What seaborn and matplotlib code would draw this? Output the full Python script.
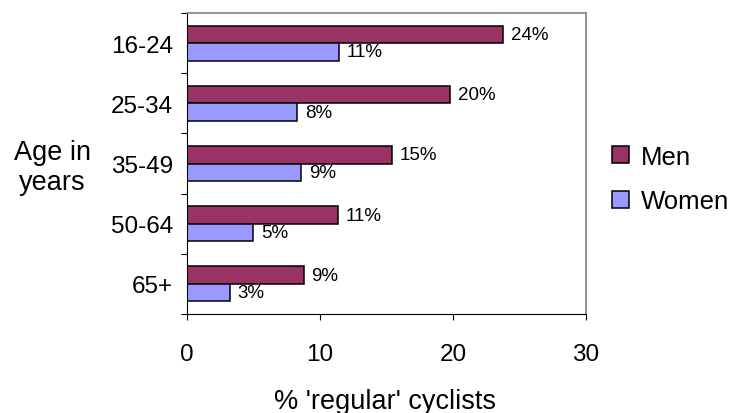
import matplotlib
matplotlib.use("Agg")
import matplotlib.pyplot as plt
from matplotlib.patches import Patch
import seaborn as sns
import pandas as pd

# Share of people who cycle regularly, by age band and sex
age_groups = ["16-24", "25-34", "35-49", "50-64", "65+"]
men_pct = [23.8, 19.8, 15.4, 11.35, 8.8]
women_pct = [11.4, 8.3, 8.6, 5.0, 3.2]
series = ["Men", "Women"]
colors = ["#993366", "#9999FF"]
x_ticks = [0, 10, 20, 30]

df = pd.DataFrame({
    "age": age_groups * 2,
    "pct": men_pct + women_pct,
    "sex": ["Men"] * len(age_groups) + ["Women"] * len(age_groups),
})

sns.set_style("white")
plt.rcParams["font.family"] = ["Liberation Sans", "DejaVu Sans"]
plt.rcParams["text.color"] = "black"
plt.rcParams["xtick.color"] = "black"
plt.rcParams["ytick.color"] = "black"
plt.rcParams["xtick.labelcolor"] = "black"
plt.rcParams["ytick.labelcolor"] = "black"

fig = plt.figure(figsize=(7.35, 4.14), dpi=100)
ax = fig.add_axes([0.2544, 0.239, 0.797 - 0.2544, 0.966 - 0.239])

sns.barplot(data=df, y="age", x="pct", hue="sex", order=age_groups,
            hue_order=series, palette=colors, orient="h", width=0.58,
            edgecolor="black", linewidth=1.1, saturation=1, legend=False,
            ax=ax)

for cont in ax.containers:
    ax.bar_label(cont, fmt="{:.0f}%", padding=5.5, fontsize=13.5,
                 color="black")

ax.set_xlim(0, 30)
ax.set_xticks(x_ticks)
ax.set_ylim(4.5, -0.5)
ax.set_yticks(range(len(age_groups)))
ax.set_yticklabels(age_groups)
ax.set_yticks([i - 0.5 for i in range(len(age_groups) + 1)], minor=True)
ax.tick_params(axis="y", which="major", length=0, pad=10, labelsize=17.5)
ax.tick_params(axis="y", which="minor", length=4.5, width=0.8,
               color="black", direction="out", left=True)
ax.tick_params(axis="x", which="major", length=4.5, width=0.8,
               color="black", direction="out", bottom=True, pad=16,
               labelsize=17.5)
ax.set_xlabel("")
ax.set_ylabel("")

for side in ["left", "bottom"]:
    ax.spines[side].set_color("black")
    ax.spines[side].set_linewidth(0.8)
for side in ["top", "right"]:
    ax.spines[side].set_color("#808080")
    ax.spines[side].set_linewidth(1.2)

fig.text(0.524, 0.012, "% 'regular' cyclists", ha="center",
         va="baseline", fontsize=19.5, color="black")
fig.text(0.071, 0.595, "Age in\nyears", ha="center", va="center",
         fontsize=19.5, linespacing=1.2, color="black")

handles = [Patch(facecolor=c, edgecolor="black", linewidth=1.1)
           for c in colors]
fig.legend(handles, series, loc="center left",
           bbox_to_anchor=(0.819, 0.565), frameon=False, fontsize=18.5,
           handlelength=0.66, handleheight=0.66, handletextpad=0.45,
           labelspacing=0.8, borderaxespad=0, labelcolor="black")

fig.savefig("out.png", dpi=100)
